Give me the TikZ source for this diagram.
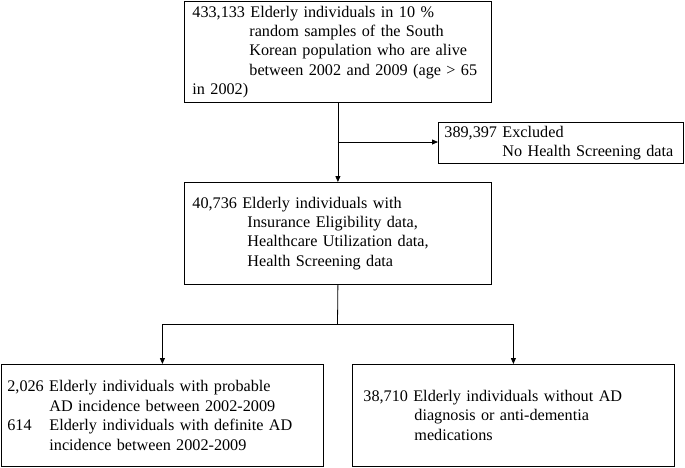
\documentclass[tikz,border=0pt]{standalone}
\usepackage{fontspec}
\setmainfont{Liberation Serif}
\usetikzlibrary{arrows.meta}
\begin{document}
\begin{tikzpicture}[x=1pt,y=-1pt,
  box/.style={draw, line width=0.8pt, rectangle, inner ysep=0pt, align=left,
    font=\fontsize{16.2}{19.4}\selectfont, anchor=north west},
  arr/.style={line width=0.8pt, -{Triangle[length=6pt,width=5pt]}},
  ln/.style={line width=0.8pt}]
\useasboundingbox (0,0) rectangle (685,467);
\node[box, text width=291pt, inner xsep=8pt, minimum height=101pt] (b1) at (184,1)
  {433,133 Elderly individuals in 10 \%\\
   \hspace*{57pt}random samples of the South\\
   \hspace*{57pt}Korean population who are alive\\
   \hspace*{57pt}between 2002 and 2009 (age > 65\\
   in 2002)};
\node[box, text width=233pt, inner xsep=6pt, minimum height=41pt] (ex) at (438,122)
  {389,397 Excluded\\
   \hspace*{58pt}No Health Screening data};
\node[box, text width=291pt, inner xsep=8pt, minimum height=102pt] (b2) at (184,182)
  {40,736 Elderly individuals with\\
   \hspace*{55pt}Insurance Eligibility data,\\
   \hspace*{55pt}Healthcare Utilization data,\\
   \hspace*{55pt}Health Screening data};
\node[box, text width=310pt, inner xsep=6pt, minimum height=102pt] (L) at (1,364)
  {2,026 Elderly individuals with probable\\
   \hspace*{42pt}AD incidence between 2002-2009\\
   \makebox[42pt][l]{614}Elderly individuals with definite AD\\
   \hspace*{42pt}incidence between 2002-2009};
\node[box, text width=300pt, inner xsep=11pt, minimum height=102pt] (R) at (352,364)
  {38,710 Elderly individuals without AD\\
   \hspace*{51pt}diagnosis or anti-dementia\\
   \hspace*{51pt}medications};
\coordinate (j1) at (337.5,142);
\coordinate (j2) at (337.5,324);
\draw[arr] (b1.south) -- (b2.north);
\draw[arr] (j1) -- (j1 -| ex.west);
\draw[ln] (b2.south) -- (j2);
\draw[arr] (j2) -| (L.north);
\draw[arr] (j2) -| (R.north);
\end{tikzpicture}
\end{document}
